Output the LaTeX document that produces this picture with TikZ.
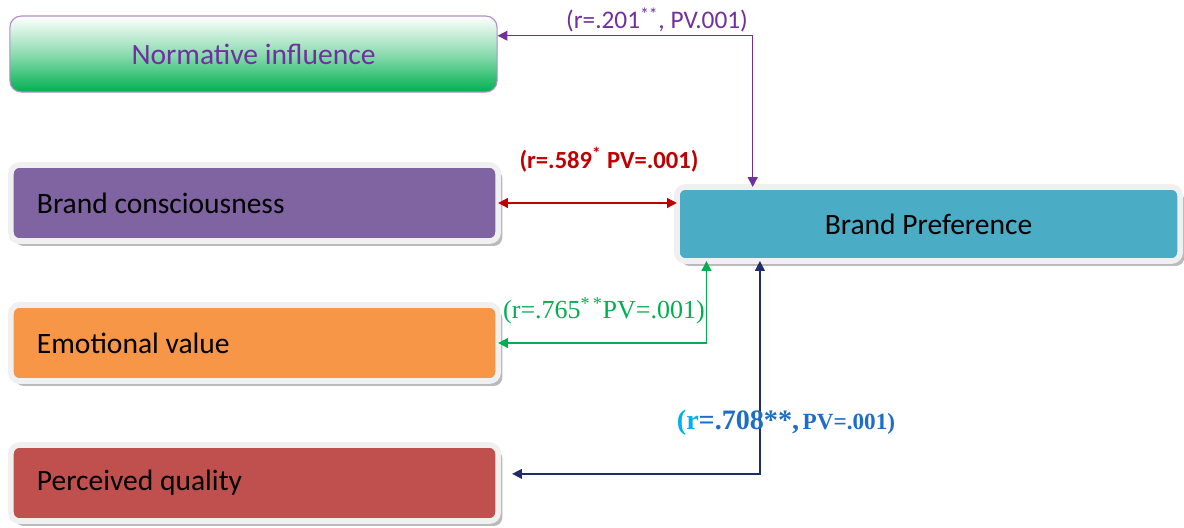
\documentclass[tikz,border=0pt]{standalone}
\usepackage{fontspec}
\setmainfont{Carlito}
\newfontfamily\serifnum{Liberation Serif}
\usetikzlibrary{arrows.meta,shadows}

\definecolor{nigreen}{RGB}{0,176,80}
\definecolor{nipurple}{RGB}{112,48,160}
\definecolor{bcpurple}{RGB}{128,100,162}
\definecolor{evorange}{RGB}{247,150,70}
\definecolor{pqred}{RGB}{192,80,77}
\definecolor{bpblue}{RGB}{75,172,198}
\definecolor{framegray}{RGB}{240,240,240}
\definecolor{redline}{RGB}{192,0,0}
\definecolor{greenline}{RGB}{0,176,80}
\definecolor{navyline}{RGB}{31,45,110}
\definecolor{cyanlabel}{RGB}{0,176,240}
\definecolor{bluelabel}{RGB}{30,110,200}

\tikzset{
  facbox/.style={draw=framegray, line width=4pt, rounded corners=6pt, outer sep=0pt,
    drop shadow={shadow xshift=3pt, shadow yshift=-3.5pt, fill=black!45, opacity=.6},
    minimum width=12.175cm, minimum height=1.9cm,
    text width=10.875cm, inner xsep=0.65cm, align=flush left,
    font=\fontsize{21}{25}\selectfont},
  nibox/.style={draw=nipurple!55, line width=0.8pt, rounded corners=8pt,
    top color=white, bottom color=nigreen, middle color=nigreen!45,
    minimum width=12.175cm, minimum height=1.9cm, text=nipurple,
    font=\fontsize{21}{25}\selectfont},
  link/.style={line width=1pt, {Triangle[length=7pt,width=7pt]}-{Triangle[length=7pt,width=7pt]}},
}

\begin{document}
\begin{tikzpicture}[x=0.025cm, y=-0.025cm]

\fill[white] (0,0) rectangle (1184,527);
\useasboundingbox (0,0) rectangle (1184,527);

% Factors
\node[nibox] (ni) at (253.5,54) {Normative influence};

\node[facbox, fill=bcpurple] (bc) at (254.5,203) {Brand consciousness};

\node[facbox, fill=evorange] (ev) at (254.5,343) {Emotional value};

\node[facbox, fill=pqred] (pq) at (254.5,483) {Perceived quality};

% Outcome
\node[facbox, fill=bpblue, minimum width=12.575cm, minimum height=1.85cm,
  text width=, align=center] (bp) at (928.5,224) {Brand Preference};

% Links
\draw[link, nipurple] ([yshift=13pt]ni.east) -| ([xshift=-125pt]bp.north);

\draw[link, redline] (bc.east) -- (bc.east -| bp.west);

\draw[link, greenline] (ev.east) -| ([xshift=21pt]bp.south west);

\draw[link, navyline, shorten <=10pt] ([yshift=6.5pt]pq.east) -| ([xshift=59pt]bp.south west);

% Correlations
\node[text=nipurple, font=\fontsize{18}{20}\selectfont] (rni) at (657,20)
{(r=.201\textsuperscript{**}, PV.001)};

\node[text=redline, font=\bfseries\fontsize{17.5}{20}\selectfont] (rbc) at (609,160)
{(r=.589\textsuperscript{*} PV=.001)};

\node[text=greenline, font=\serifnum\fontsize{18.5}{20}\selectfont] (rev) at (604,311)
{(r=.765\textsuperscript{*\,*}PV=.001)};

\node[font=\serifnum\bfseries] (rpq) at (786,423)
{\textcolor{cyanlabel}{\fontsize{20}{22}\selectfont(r}\textcolor{bluelabel}{\fontsize{20}{22}\selectfont=.708**,}
 \textcolor{bluelabel}{\fontsize{16.5}{20}\selectfont PV=.001)}};

\end{tikzpicture}
\end{document}
